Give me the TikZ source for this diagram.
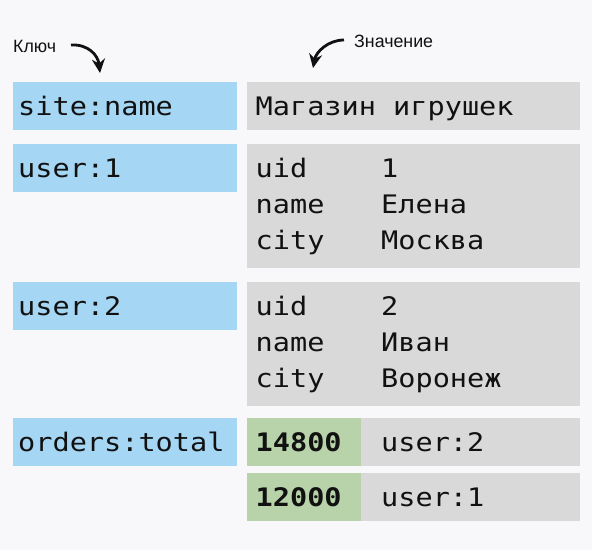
\documentclass[tikz,border=0pt]{standalone}
\usepackage{fontspec}
\setmainfont{Liberation Sans}
\newfontfamily\monof[FakeStretch=1.12]{DejaVu Sans Mono}
\usetikzlibrary{arrows.meta}
\definecolor{bg}{RGB}{248,248,250}
\definecolor{keyblue}{RGB}{165,214,243}
\definecolor{valgray}{RGB}{217,217,217}
\definecolor{numgreen}{RGB}{184,211,170}
\definecolor{ink}{RGB}{17,17,17}
\begin{document}
\begin{tikzpicture}[x=1pt,y=-1pt,
 box/.style={rectangle,inner sep=0pt,outer sep=0pt,anchor=north west},
 keybox/.style={box,fill=keyblue,minimum width=224pt,minimum height=48pt},
 valbox/.style={box,fill=valgray,minimum width=333pt},
 numbox/.style={box,fill=numgreen,minimum width=114pt,minimum height=48pt},
 refbox/.style={box,fill=valgray,minimum width=219pt,minimum height=48pt},
 mono/.style={inner sep=0pt,anchor=base west,font=\monof\fontsize{25.5}{30}\selectfont,text=ink},
 bmono/.style={mono,font=\monof\bfseries\fontsize{25.5}{30}\selectfont},
 lbl/.style={inner sep=0pt,anchor=base west,font=\fontsize{17.8}{20}\selectfont,text=ink},
 curvedarrow/.style={line width=2.8pt,-{Stealth[length=14pt,width=13pt]},draw=ink}]
\fill[bg] (0,0) rectangle (592,550);
\useasboundingbox (0,0) rectangle (592,550);

% labels and arrows
\node[lbl] (lk) at (13,52.3) {Ключ};
\node[lbl] (lv) at (354,47.8) {Значение};
\coordinate (a1s) at (71,45);
\coordinate (a1e) at (100,73);
\coordinate (a2s) at (344,40);
\coordinate (a2e) at (313,68);
\draw[curvedarrow] (a1s) .. controls (88,44) and (98,55) .. (a1e);
\draw[curvedarrow] (a2s) .. controls (328,40) and (316,52) .. (a2e);

% row 1
\node[keybox] (k1) at (13,82) {};
\node[valbox,minimum height=48pt] (v1) at (247,82) {};
\node[mono] (k1t) at (18,115) {site:name};
\node[mono] (v1t) at (255.5,115) {Магазин игрушек};

% row 2
\node[keybox] (k2) at (13,144) {};
\node[valbox,minimum height=124pt] (v2) at (247,144) {};
\node[mono] (k2t) at (18,177) {user:1};
\node[mono] (v2a) at (255.5,177) {uid};
\node[mono] (v2b) at (255.5,213) {name};
\node[mono] (v2c) at (255.5,249) {city};
\node[mono] (v2d) at (381,177) {1};
\node[mono] (v2e) at (381,213) {Елена};
\node[mono] (v2f) at (381,249) {Москва};

% row 3
\node[keybox] (k3) at (13,282) {};
\node[valbox,minimum height=124pt] (v3) at (247,282) {};
\node[mono] (k3t) at (18,315) {user:2};
\node[mono] (v3a) at (255.5,315) {uid};
\node[mono] (v3b) at (255.5,351) {name};
\node[mono] (v3c) at (255.5,387) {city};
\node[mono] (v3d) at (381,315) {2};
\node[mono] (v3e) at (381,351) {Иван};
\node[mono] (v3f) at (381,387) {Воронеж};

% row 4
\node[keybox] (k4) at (13,418) {};
\node[numbox] (g1) at (247,418) {};
\node[refbox] (o1) at (361,418) {};
\node[numbox] (g2) at (247,473) {};
\node[refbox] (o2) at (361,473) {};
\node[mono] (k4t) at (18,451) {orders:total};
\node[bmono] (g1t) at (255.5,451) {14800};
\node[mono] (o1t) at (381,451) {user:2};
\node[bmono] (g2t) at (255.5,506) {12000};
\node[mono] (o2t) at (381,506) {user:1};
\end{tikzpicture}
\end{document}
